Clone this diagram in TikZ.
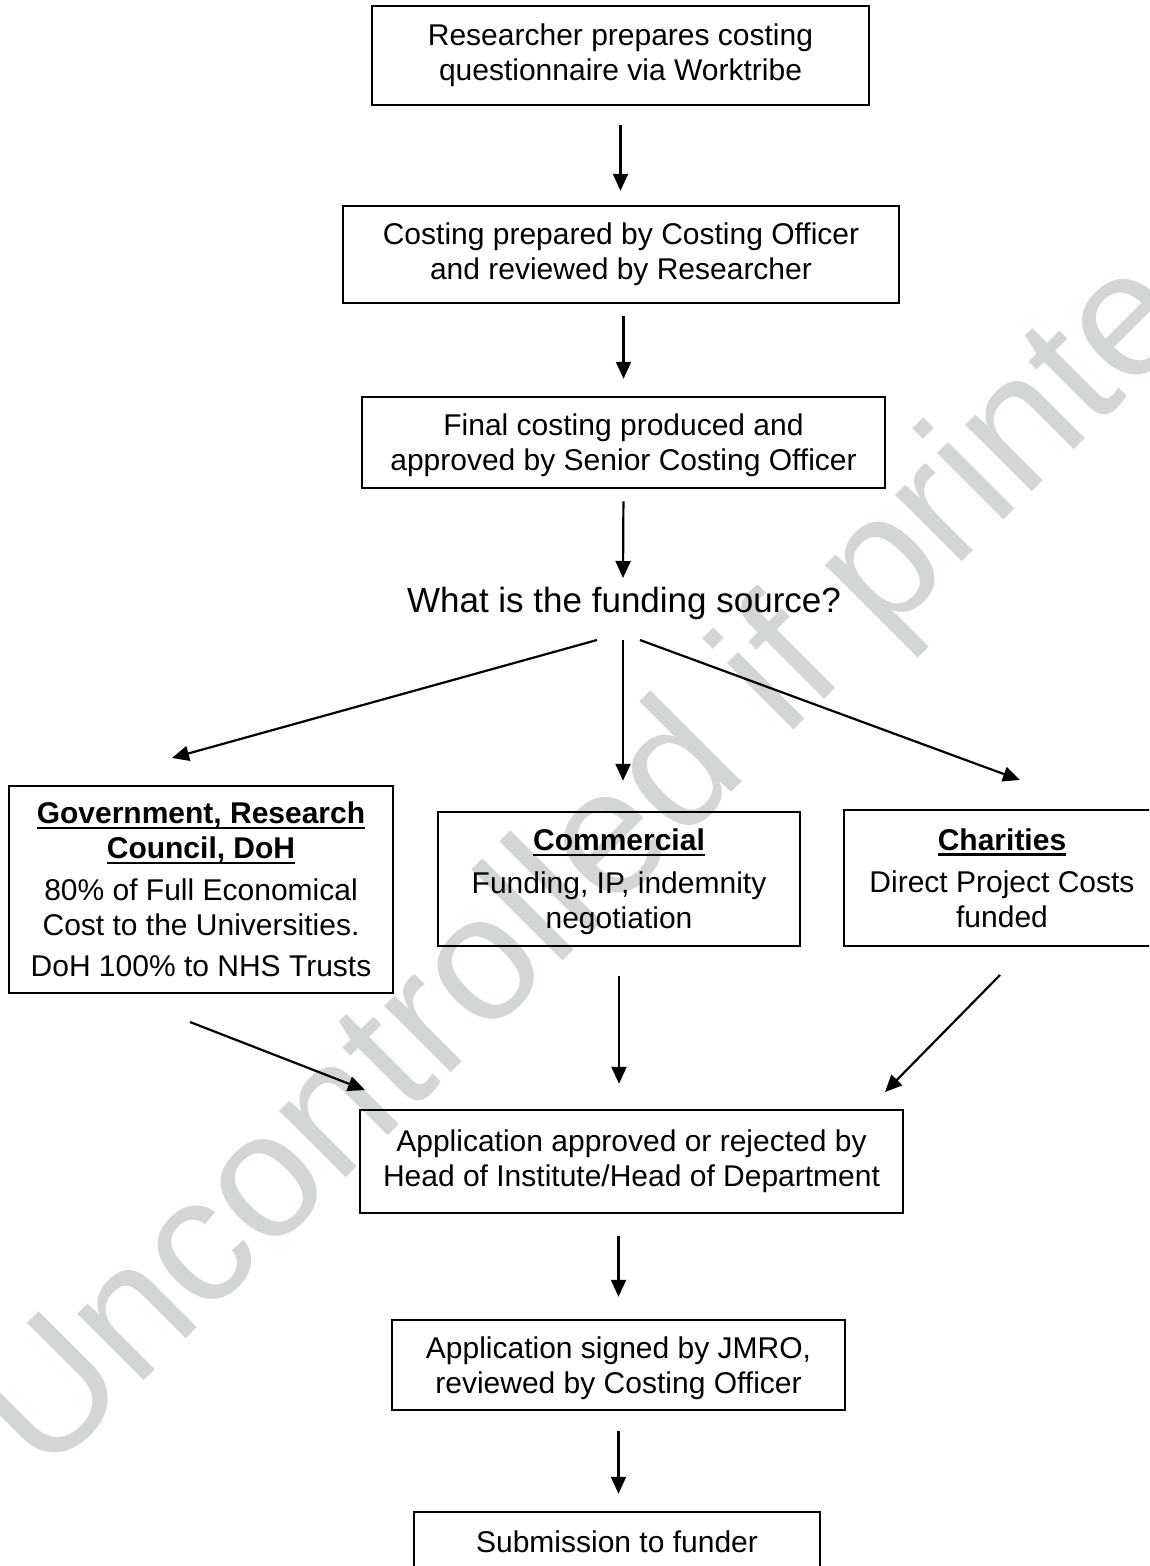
\documentclass[tikz,border=0pt]{standalone}
\usepackage{fontspec}
\setmainfont{Liberation Sans}
\usetikzlibrary{arrows.meta}
\definecolor{wmgray}{RGB}{210,214,213}
\newcommand\myul[1]{\setbox0=\hbox{#1}\rlap{\rule[-5.5pt]{\wd0}{2.5pt}}\box0}
\begin{document}
\begin{tikzpicture}[x=1pt,y=-1pt,
  box/.style={draw, line width=2.5pt, align=center, inner sep=0pt,
    font=\fontsize{30}{35}\selectfont},
  arr/.style={line width=2.2pt, -{Triangle[length=17pt,width=15pt]}}]
\useasboundingbox (0,0) rectangle (1149,1566);
\begin{scope}
\clip (0,0) rectangle (1149,1566);
\fill[white] (0,0) rectangle (1149,1566);
% watermark
\node[rotate=45, anchor=base west, inner sep=0pt, text=wmgray,
  font=\fontsize{178}{178}\selectfont] (wm) at (44,1480) {Uncontrolled if printed};
% boxes
\node[box, minimum width=497pt, minimum height=99pt] (b1) at (620.5,55.5)
  {Researcher prepares costing\\questionnaire via Worktribe};
\node[box, minimum width=556pt, minimum height=97pt] (b2) at (621,254.5)
  {Costing prepared by Costing Officer\\and reviewed by Researcher};
\node[box, minimum width=523pt, minimum height=91pt] (b3) at (623.5,442.5)
  {Final costing produced and\\\smash{approved by Senior Costing Officer}};
\node[inner sep=0pt, font=\fontsize{35}{40}\selectfont] (q) at (624,603.5)
  {What is the funding source?};
\node[box, minimum width=384pt, minimum height=207pt] (gov) at (201,889.5)
  {\myul{\textbf{Government, Research}}\\\myul{\textbf{Council, DoH}}\\[7pt]
   80\% of Full Economical\\Cost to the Universities.\\[6pt]DoH 100\% to NHS Trusts};
\node[box, minimum width=362pt, minimum height=134pt] (com) at (619,879)
  {\myul{\textbf{Commercial}}\\[8pt]Funding, IP, indemnity\\\smash{negotiation}};
\node[box, minimum width=316pt, minimum height=136pt] (cha) at (1002,878)
  {\myul{\textbf{Charities}}\\[7pt]Direct Project Costs\\funded};
\node[box, minimum width=543pt, minimum height=103pt] (app) at (631.5,1161.5)
  {Application approved or rejected by\\Head of Institute/Head of Department};
\node[box, minimum width=453pt, minimum height=90pt] (jmro) at (618.5,1365)
  {Application signed by JMRO,\\\smash{reviewed by Costing Officer}};
\node[box, minimum width=406pt, minimum height=60pt] (sub) at (617,1542)
  {Submission to funder};
% arrow end points
\coordinate (qTop) at (623,578);
\coordinate (qL) at (597,640);
\coordinate (qM) at (623,640);
\coordinate (qR) at (640,640);
\coordinate (govIn) at (172,758);
\coordinate (chaIn) at (1020,780);
\coordinate (govOut) at (190,1022);
\coordinate (chaOut) at (1000,975);
\coordinate (appL) at (365,1090);
\coordinate (appR) at (885,1092);
% connectors
\draw[arr, shorten <=19pt, shorten >=14pt] (b1.south) -- (b1.south |- b2.north);
\draw[arr, shorten <=12pt, shorten >=17pt] (b2.south -| b3.north) -- (b3.north);
\draw[arr, shorten <=12pt] (b3.south) -- (qTop);
\draw[arr] (qL) -- (govIn);
\draw[arr, shorten >=30pt] (qM) -- (qM |- com.north);
\draw[arr] (qR) -- (chaIn);
\draw[arr] (govOut) -- (appL);
\draw[arr, shorten <=29pt, shorten >=25pt] (com.south) -- (com.south |- app.north);
\draw[arr] (chaOut) -- (appR);
\draw[arr, shorten <=22pt, shorten >=22pt] (jmro.north |- app.south) -- (jmro.north);
\draw[arr, shorten <=20pt, shorten >=17pt] (jmro.south) -- (jmro.south |- sub.north);
\end{scope}
\end{tikzpicture}
\end{document}
